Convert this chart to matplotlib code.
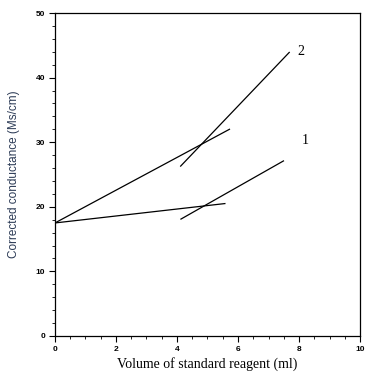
import matplotlib
matplotlib.use("Agg")
import matplotlib.pyplot as plt
from matplotlib.ticker import MultipleLocator

# Data
line1a_x = [0.0, 5.57]
line1a_y = [17.5, 20.5]
line1b_x = [4.13, 7.49]
line1b_y = [18.1, 27.1]
line2a_x = [0.0, 5.72]
line2a_y = [17.5, 32.0]
line2b_x = [4.12, 7.68]
line2b_y = [26.3, 43.9]
labels = ["1", "2"]
label_x = [8.09, 7.96]
label_y = [30.3, 44.0]
xticks = [0, 2, 4, 6, 8, 10]
yticks = [0, 10, 20, 30, 40, 50]

fig = plt.figure(figsize=(3.74, 3.76), dpi=100)
ax = fig.add_axes([0.147, 0.1064, 0.8156, 0.859])

for xs, ys in [(line1a_x, line1a_y), (line1b_x, line1b_y),
               (line2a_x, line2a_y), (line2b_x, line2b_y)]:
    ax.plot(xs, ys, color="black", lw=0.9)

for t, x, y in zip(labels, label_x, label_y):
    ax.text(x, y, t, family="Liberation Serif", fontsize=10, ha="left", va="center")

ax.set_xlim(0, 10)
ax.set_ylim(0, 50)
ax.set_xticks(xticks)
ax.set_yticks(yticks)
ax.xaxis.set_minor_locator(MultipleLocator(0.5))
ax.yaxis.set_minor_locator(MultipleLocator(2))
ax.tick_params(which="major", direction="out", length=4, width=0.8, labelsize=6, pad=3)
ax.tick_params(which="minor", direction="out", length=2, width=0.6)
for lab in ax.get_xticklabels() + ax.get_yticklabels():
    lab.set_family("Liberation Sans")
    lab.set_fontweight("bold")
for sp in ax.spines.values():
    sp.set_linewidth(0.9)

ax.set_xlabel("Volume of standard reagent (ml)", family="Liberation Serif", fontsize=10, labelpad=3)
ax.set_ylabel("Corrected conductance (Ms/cm)", family="Liberation Sans", fontsize=8.5,
              color="#2b3a55", labelpad=11)

fig.savefig("out.png", dpi=100)
